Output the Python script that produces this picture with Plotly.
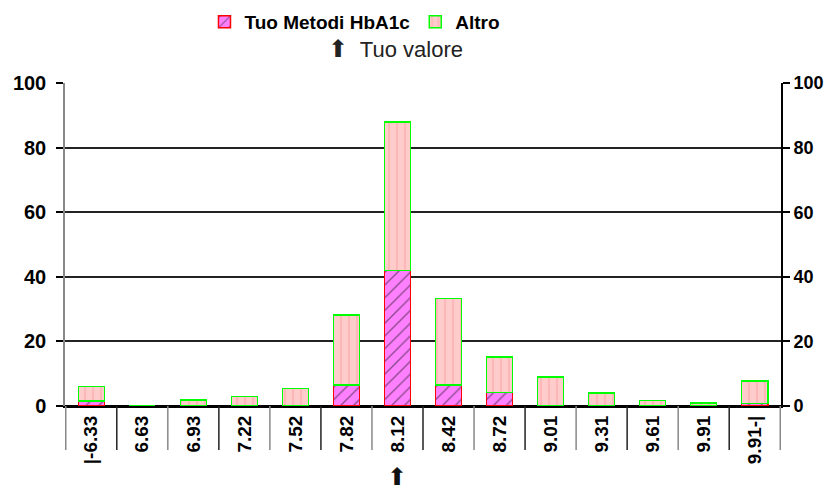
import plotly.graph_objects as go

categories = ["|-6.33", "6.63", "6.93", "7.22", "7.52", "7.82", "8.12",
              "8.42", "8.72", "9.01", "9.31", "9.61", "9.91", "9.91-|"]
tuo_metodi = [1.5, 0, 0, 0, 0, 6.5, 42, 6.5, 4.2, 0, 0, 0, 0, 0.8]
altro = [4.5, 0, 1.8, 3, 5.4, 21.7, 46, 26.8, 11, 9, 4, 1.7, 0.9, 7]
tuo_valore = "8.12"

FONT = "Arial, Liberation Sans, sans-serif"
# the page body adds an 8px margin, so the figure is sized to fit the window
W, H, OFF = 827, 481, 8

fig = go.Figure()
fig.add_trace(go.Bar(
    x=categories, y=tuo_metodi, name="<b>Tuo Metodi HbA1c</b>",
    marker=dict(color="#FF80FF", line=dict(color="#FF0000", width=1.5),
                pattern=dict(shape="/", fgcolor="#111111", size=9, solidity=0.15)),
))
fig.add_trace(go.Bar(
    x=categories, y=altro, name="<b>Altro</b>",
    marker=dict(color="#FFCCCC", line=dict(color="#00FF00", width=1.5),
                pattern=dict(shape="|", fgcolor="#FF9F9F", size=8, solidity=0.25)),
))
# invisible trace to drive the right-hand axis
fig.add_trace(go.Scatter(x=categories, y=altro, yaxis="y2", mode="none",
                         showlegend=False, hoverinfo="skip"))

# separators under the category axis
for i in range(len(categories) + 1):
    fig.add_shape(type="line", xref="x", yref="paper",
                  x0=i - 0.5, x1=i - 0.5, y0=0, y1=-44 / 323,
                  line=dict(color="#222222" if i % 2 else "#888888", width=1.5))

fig.add_annotation(xref="paper", yref="paper", x=0.462, y=1.155,
                   text='<span style="font-size:24px">⬆</span>  Tuo valore',
                   showarrow=False, font=dict(family=FONT, size=22, color="#222"))
fig.add_annotation(xref="x", yref="paper", x=categories.index(tuo_valore),
                   y=-0.266, text="⬆", showarrow=False,
                   font=dict(family=FONT, size=24, color="#111"))

fig.update_layout(
    width=W, height=H, barmode="stack", bargap=0.49,
    plot_bgcolor="white", paper_bgcolor="white",
    margin=dict(l=65 - OFF, r=54, t=83 - OFF, b=83, autoexpand=False),
    font=dict(family=FONT, color="black"),
    legend=dict(orientation="h", x=0.405, xanchor="center",
                y=1 - (22 - OFF) / H, yref="container", yanchor="middle",
                font=dict(size=19), traceorder="normal"),
    xaxis=dict(type="category", showgrid=False, showline=True, automargin=False,
               linecolor="black", linewidth=2, ticks="",
               tickangle=-90, tickfont=dict(size=19, family=FONT),
               tickprefix="<b>", ticksuffix="</b>"),
    yaxis=dict(range=[0, 100], dtick=20, showgrid=True, gridcolor="#222",
               gridwidth=1.6, showline=True, linecolor="#888", linewidth=1.5,
               automargin=False, ticklabelstandoff=6,
               ticks="outside", ticklen=7, tickcolor="black", tickwidth=1.6,
               tickfont=dict(size=20), tickprefix="<b>", ticksuffix="</b>",
               zeroline=True, zerolinecolor="black", zerolinewidth=2),
    yaxis2=dict(range=[0, 100], dtick=20, overlaying="y", side="right",
                showgrid=False, showline=True, linecolor="black", linewidth=1.6,
                automargin=False, ticklabelstandoff=0,
                ticks="outside", ticklen=7, tickcolor="black", tickwidth=1.6,
                tickfont=dict(size=18), tickprefix="<b>", ticksuffix="</b>",
                zeroline=False),
)

fig.write_html("out.html")
